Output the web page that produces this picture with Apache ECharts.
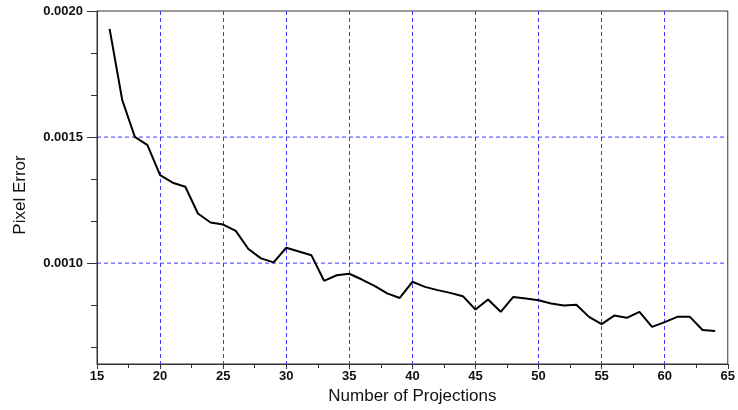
<!DOCTYPE html>
<html>
<head>
<meta charset="utf-8">
<script src="https://cdn.jsdelivr.net/npm/echarts@6/dist/echarts.min.js"></script>
<style>html,body{margin:0;padding:0;background:#fff;}#c{width:738px;height:410px;}</style>
</head>
<body>
<div id="c"></div>
<script>
var projections = [16,17,18,19,20,21,22,23,24,25,26,27,28,29,30,31,32,33,34,35,36,37,38,39,40,41,42,43,44,45,46,47,48,49,50,51,52,53,54,55,56,57,58,59,60,61,62,63,64];
var pixelError = [0.001929,0.001647,0.001501,0.001468,0.001349,0.001319,0.001303,0.001197,0.001161,0.001153,0.001128,0.001056,0.001019,0.001003,0.001061,0.001046,0.001031,0.000930,0.000952,0.000958,0.000935,0.000910,0.000880,0.000862,0.000926,0.000906,0.000893,0.000882,0.000869,0.000816,0.000856,0.000807,0.000866,0.000860,0.000853,0.000840,0.000832,0.000835,0.000787,0.000758,0.000792,0.000783,0.000807,0.000747,0.000766,0.000787,0.000787,0.000735,0.000731];
var xRange = [15, 65];
var yRange = [0.0006, 0.002];
var yMajorTicks = [0.0010, 0.0015, 0.0020];
var yGridLines = [0.0010, 0.0015];
var yMinorTicks = [0.0006667, 0.0008333, 0.0011667, 0.0013333, 0.0016667, 0.0018333];
var xTitle = 'Number of Projections';
var yTitle = 'Pixel Error';

var chart = echarts.init(document.getElementById('c'));
var gridColor = '#3b3bff';
var tickFont = {fontFamily: 'Liberation Sans', fontSize: 13, fontWeight: 'bold', color: '#111'};
var gridSeries = yGridLines.map(function (v) {
  return {
    type: 'line', yAxisIndex: 0, silent: true, symbol: 'none', showSymbol: false, z: 1,
    data: xRange.map(function (x) { return [x, v]; }),
    lineStyle: {color: gridColor, type: [4, 3], width: 1},
    emphasis: {disabled: true}
  };
});
chart.setOption({
  animation: false,
  backgroundColor: '#fff',
  grid: {left: 97, right: 6, top: 11, bottom: 46, show: true, borderColor: '#333', borderWidth: 1, backgroundColor: 'transparent'},
  xAxis: {
    type: 'value', min: xRange[0], max: xRange[1], interval: 5,
    name: xTitle, nameLocation: 'middle', nameGap: 24,
    nameTextStyle: {fontFamily: 'Liberation Sans', fontSize: 17, color: '#111'},
    axisLine: {show: true, lineStyle: {color: '#333', width: 1}},
    axisTick: {show: true, length: 5, lineStyle: {color: '#333'}},
    minorTick: {show: true, splitNumber: 2, length: 4, lineStyle: {color: '#333'}},
    axisLabel: Object.assign({margin: 6}, tickFont),
    splitLine: {show: true, showMinLine: false, showMaxLine: false, lineStyle: {color: gridColor, type: [4, 3], width: 1}}
  },
  yAxis: [{
    type: 'value', min: yRange[0], max: yRange[1], position: 'left', z: 4,
    name: yTitle, nameLocation: 'middle', nameGap: 68,
    nameTextStyle: {fontFamily: 'Liberation Sans', fontSize: 17, color: '#111', padding: [0, 15, 0, 0]},
    axisLine: {show: true, lineStyle: {color: '#333', width: 1}},
    axisTick: {show: true, length: 10, customValues: yMajorTicks, lineStyle: {color: '#333'}},
    axisLabel: Object.assign({margin: 14, customValues: yMajorTicks, formatter: function (v) { return v.toFixed(4); }}, tickFont),
    splitLine: {show: false}
  }, {
    type: 'value', min: yRange[0], max: yRange[1], position: 'left', z: 4,
    axisLine: {show: false},
    axisTick: {show: true, length: 6, customValues: yMinorTicks, lineStyle: {color: '#333'}},
    axisLabel: {show: false},
    splitLine: {show: false}
  }],
  series: gridSeries.concat([{
    type: 'line', yAxisIndex: 0,
    data: projections.map(function (x, i) { return [x, pixelError[i]]; }),
    showSymbol: false, symbol: 'none',
    lineStyle: {color: '#000', width: 2},
    silent: true,
    z: 3
  }])
});
</script>
</body>
</html>
